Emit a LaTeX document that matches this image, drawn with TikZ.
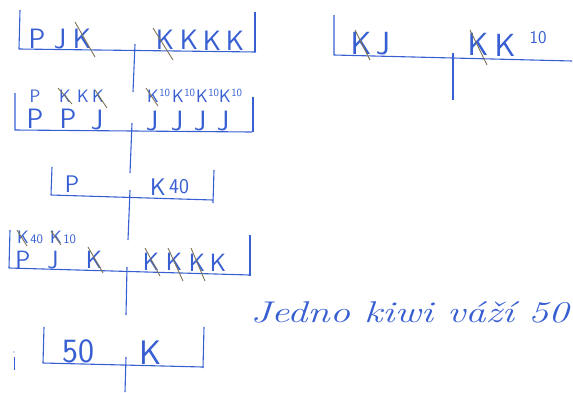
\documentclass[tikz,border=0pt]{standalone}
\usepackage{fontspec}
\usepackage{tikz}
\usetikzlibrary{positioning}
\definecolor{ink}{RGB}{55,95,210}
\definecolor{pencil}{RGB}{125,115,85}
\tikzset{
beam/.style={draw=ink, line width=1.1pt, line join=round}, % arm of a balance with its two end pans
post/.style={draw=ink, line width=1.1pt}, % the stand under each balance
glyph/.style={text=ink, anchor=base, inner sep=0pt, font=\sffamily\fontsize{28}{28}\selectfont},
midglyph/.style={glyph, font=\sffamily\fontsize{24}{24}\selectfont},
lowglyph/.style={glyph, font=\sffamily\fontsize{25}{25}\selectfont},
smallglyph/.style={glyph, font=\sffamily\fontsize{18}{18}\selectfont},
tinyglyph/.style={glyph, font=\sffamily\fontsize{11}{11}\selectfont},
cross/.style={draw=pencil, line width=0.9pt}, % pencil stroke over a removed fruit
}

\begin{document}
\begin{tikzpicture}[x=1pt, y=-1pt]
    \useasboundingbox (0,0) rectangle (573,392);

    % balance 1
    \draw[beam] (20,10) -- (19,49) -- (256,52);
    \draw[beam] (255,12) -- (255,52);
    \draw[post] (135,44) -- (133,92);
    \node[glyph] (a1) at (37,48) {P};
    \node[glyph] (a2) at (60,48) {J};
    \node[glyph] (a3) at (82,48) {K};
    \node[glyph] (a4) at (165,49) {K};
    \node[glyph] (a5) at (189,49) {K};
    \node[glyph] (a6) at (212,50) {K};
    \node[glyph] (a7) at (235,50) {K};
    \draw[cross] (75,22) -- (95,57);
    \draw[cross] (153,28) -- (173,60);

    % balance 2
    \draw[beam] (15,93) -- (15,130) -- (252,132);
    \draw[beam] (253,97) -- (253,132);
    \draw[post] (132,123) -- (130,173);
    \node[smallglyph] (b1) at (35,102) {P};
    \node[smallglyph] (b2) at (65,102) {K};
    \node[smallglyph] (b3) at (83,102) {K};
    \node[smallglyph] (b4) at (98,102) {K};
    \node[glyph] (b5) at (35,128) {P};
    \node[glyph] (b6) at (68,128) {P};
    \node[glyph] (b7) at (97,129) {J};
    \node[smallglyph] (c1) at (153,102) {K};
    \node[smallglyph] (c2) at (178,102) {K};
    \node[smallglyph] (c3) at (202,102) {K};
    \node[smallglyph] (c4) at (225,102) {K};
    \node[tinyglyph, right=0pt of c1.north east, anchor=north west] (d1) {10};
    \node[tinyglyph, right=0pt of c2.north east, anchor=north west] (d2) {10};
    \node[tinyglyph, right=0pt of c3.north east, anchor=north west] (d3) {10};
    \node[tinyglyph, right=0pt of c4.north east, anchor=north west] (d4) {10};
    \node[glyph] (e1) at (152,130) {J};
    \node[glyph] (e2) at (177,130) {J};
    \node[glyph] (e3) at (200,130) {J};
    \node[glyph] (e4) at (223,130) {J};
    \draw[cross] (58,88) -- (72,104);
    \draw[cross] (95,90) -- (107,108);
    \draw[cross] (146,88) -- (158,106);

    % balance 3
    \draw[beam] (52,167) -- (51,195) -- (213,200);
    \draw[beam] (214,170) -- (213,203);
    \draw[post] (130,190) -- (128,240);
    \node[midglyph] (f1) at (72,192) {P};
    \node[midglyph] (f2) at (158,195) {K};
    \node[glyph, font=\sffamily\fontsize{21}{21}\selectfont, right=3pt of f2.base east, anchor=base west, yshift=2pt] (f3) {40};

    % balance 4
    \draw[beam] (10,230) -- (9,268) -- (250,275);
    \draw[beam] (250,235) -- (250,276);
    \draw[post] (127,267) -- (126,315);
    \node[smallglyph] (g1) at (23,243) {K};
    \node[glyph, font=\sffamily\fontsize{13}{13}\selectfont, right=1pt of g1.base east, anchor=base west] (g2) {40};
    \node[smallglyph] (g3) at (56,243) {K};
    \node[glyph, font=\sffamily\fontsize{13}{13}\selectfont, right=1pt of g3.base east, anchor=base west] (g4) {10};
    \node[lowglyph] (h1) at (23,268) {P};
    \node[lowglyph] (h2) at (53,268) {J};
    \node[lowglyph] (h3) at (94,268) {K};
    \node[lowglyph] (h4) at (151,270) {K};
    \node[lowglyph] (h5) at (174,270) {K};
    \node[lowglyph] (h6) at (197,271) {K};
    \node[lowglyph] (h7) at (218,271) {K};
    \draw[cross] (17,230) -- (27,246);
    \draw[cross] (51,231) -- (61,245);
    \draw[cross] (88,247) -- (103,273);
    \draw[cross] (145,248) -- (160,276);
    \draw[cross] (168,248) -- (183,281);
    \draw[cross] (191,248) -- (205,281);

    % balance 5
    \draw[beam] (44,327) -- (43,363) -- (203,367);
    \draw[beam] (204,327) -- (203,368);
    \draw[post] (126,357) -- (125,392);
    \node[glyph, font=\sffamily\fontsize{34}{34}\selectfont] (k1) at (78,362) {50};
    \node[glyph, font=\sffamily\fontsize{34}{34}\selectfont] (k2) at (151,364) {K};
    \draw[ink, line width=0.8pt] (14,357) -- (14,370);
    \fill[ink] (14,352) circle (0.7);

    % balance at top right
    \draw[beam] (334,15) -- (334,55) -- (572,61);
    \draw[post] (453,53) -- (453,100);
    \node[glyph, font=\sffamily\fontsize{32}{32}\selectfont] (m1) at (361,54) {K};
    \node[glyph, font=\sffamily\fontsize{32}{32}\selectfont] (m2) at (383,54) {J};
    \node[glyph, font=\sffamily\fontsize{32}{32}\selectfont] (m3) at (478,55) {K};
    \node[glyph, font=\sffamily\fontsize{32}{32}\selectfont] (m4) at (505,56) {K};
    \node[smallglyph] (m5) at (538,43) {10};
    \draw[cross] (355,30) -- (370,60);
    \draw[cross] (470,30) -- (487,65);

    % note
    \node[text=ink, anchor=base west, inner sep=0pt, xscale=1.35,
          font=\itshape\fontsize{30}{30}\selectfont] (note) at (250,322) {Jedno kiwi váží 50};
\end{tikzpicture}
\end{document}
